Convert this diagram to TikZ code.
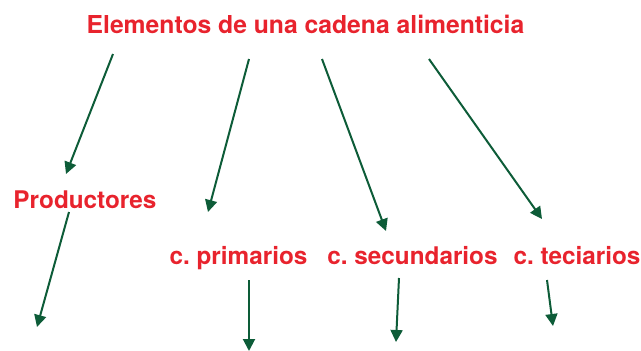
\documentclass[tikz,border=0pt]{standalone}
\usepackage{fontspec}
\setmainfont{TeX Gyre Heros}
\usetikzlibrary{arrows.meta}
\definecolor{lblred}{HTML}{E8232D}
\definecolor{arrgreen}{HTML}{0D5C38}
\tikzset{
  lbl/.style={text=lblred, font=\frenchspacing\fontsize{24.3}{29}\selectfont\bfseries, inner sep=0pt, anchor=base},
  arr/.style={draw=arrgreen, line width=2pt, -{Triangle[length=12pt,width=12pt]}}
}
\begin{document}
\begin{tikzpicture}[x=1pt,y=-1pt]
\useasboundingbox (0,0) rectangle (641,351);
\node[lbl, font=\frenchspacing\fontsize{24.7}{29}\selectfont\bfseries] (title) at (305.5,33) {Elementos de una cadena alimenticia};
\node[lbl] (prod) at (85,208) {Productores};
\node[lbl] (prim) at (238.5,264) {c. primarios};
\node[lbl] (sec) at (412.5,264) {c. secundarios};
\node[lbl] (ter) at (577,264) {c. teciarios};
% start points under the title
\coordinate (t1) at (113,54);
\coordinate (t2) at (249,59);
\coordinate (t3) at (322,59);
\coordinate (t4) at (429,59);
% tips above the labels
\coordinate (h1) at (66,174);
\coordinate (h2) at (208,212);
\coordinate (h3) at (386,231);
\coordinate (h4) at (542,219);
% starts under the labels
\coordinate (p0) at (69,212);
\coordinate (q0) at (249,280);
\coordinate (r0) at (399,278);
\coordinate (s0) at (547,280);
% free ends
\coordinate (p1) at (37,327);
\coordinate (q1) at (249,351);
\coordinate (r1) at (396,342);
\coordinate (s1) at (553,326);
\draw[arr] (t1) -- (h1);
\draw[arr] (t2) -- (h2);
\draw[arr] (t3) -- (h3);
\draw[arr] (t4) -- (h4);
\draw[arr] (p0) -- (p1);
\draw[arr] (q0) -- (q1);
\draw[arr] (r0) -- (r1);
\draw[arr] (s0) -- (s1);
\end{tikzpicture}
\end{document}
